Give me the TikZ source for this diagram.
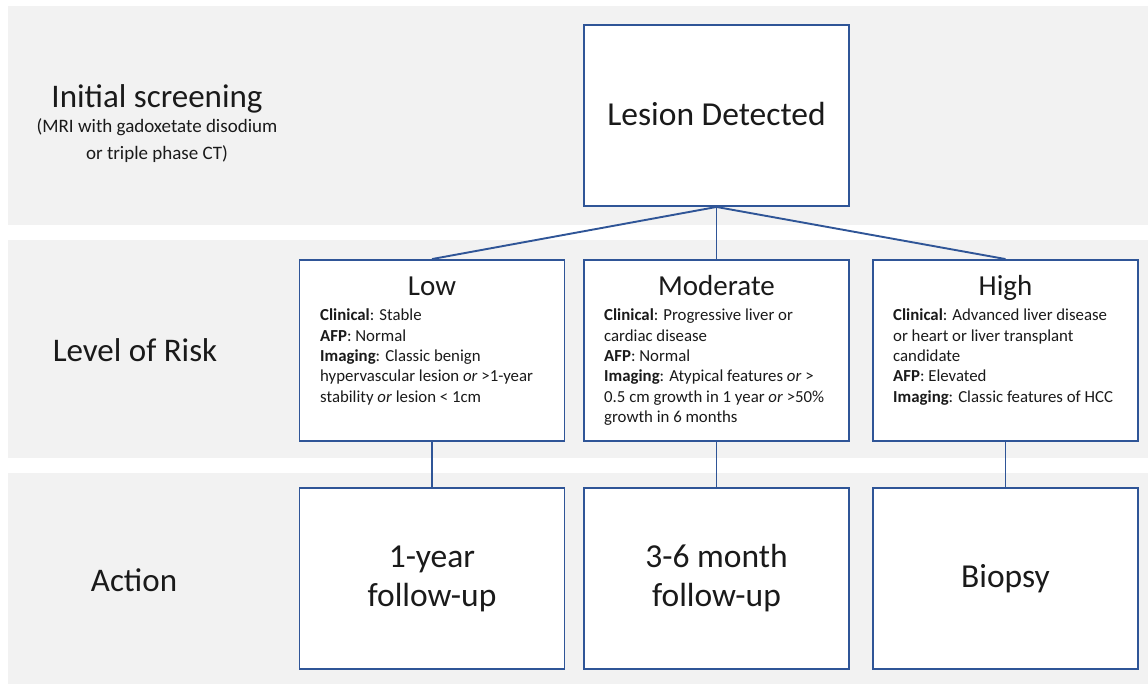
\documentclass[tikz,border=0pt]{standalone}
\usepackage{fontspec}
\setmainfont{Carlito}
\usepackage{tikz}
\usetikzlibrary{positioning}
\definecolor{bandgrey}{HTML}{F2F2F2}
\definecolor{boxblue}{HTML}{2F5597}
\definecolor{inkblack}{HTML}{1A1A1A}

\begin{document}
\begin{tikzpicture}[x=1pt,y=-1pt,
    box/.style={draw=boxblue, line width=1.9pt, fill=white,
        minimum width=265pt, minimum height=181pt, inner sep=0pt},
    link/.style={draw=boxblue, line width=1.9pt},
    big/.style={font=\fontsize{33.5}{39}\selectfont, text=inkblack, align=center},
    rowlabel/.style={font=\fontsize{33}{36}\selectfont, text=inkblack},
    head/.style={font=\fontsize{29}{32}\selectfont, text=inkblack, anchor=base},
    body/.style={font=\fontsize{16.8}{20.3}\selectfont, text=inkblack,
        align=left, anchor=north west, inner sep=0pt}]
    \useasboundingbox (0,0) rectangle (1148,686);
    % grey bands
    \fill[bandgrey] (8,6) rectangle (1148,225);
    \fill[bandgrey] (8,240) rectangle (1148,458);
    \fill[bandgrey] (8,473) rectangle (1148,684);

    % row labels
    \node[rowlabel, anchor=base] (screening) at (157,107) {Initial screening};
    \node[font=\fontsize{19}{27}\selectfont, text=inkblack, align=center, anchor=north] (screensub) at (157,115)
        {(MRI with gadoxetate disodium\\or triple phase CT)};
    \node[rowlabel] (risklabel) at (135,350) {Level of Risk};
    \node[rowlabel] (actionlabel) at (134,580) {Action};

    % boxes
    \node[box, big] (lesion) at (716.5,115.5) {\raisebox{3pt}{Lesion Detected}};
    \node[box] (low) at (432,350.5) {};
    \node[box] (moderate) at (716.5,350.5) {};
    \node[box] (high) at (1005.5,350.5) {};
    \node[box, big] (lowact) at (432,578.5) {1-year\\follow-up};
    \node[box, big] (modact) at (716.5,578.5) {3-6 month\\follow-up};
    \node[box, big] (highact) at (1005.5,578.5) {Biopsy};

    % risk texts
    \node[head] (lowhead) at (432,295) {Low};
    \node[body] (lowtext) at (320,309) {\textbf{Clinical}: Stable\\
        \textbf{AFP}: Normal\\
        \textbf{Imaging}: Classic benign\\
        hypervascular lesion \textit{or} >1-year\\
        stability \textit{or} lesion < 1cm};
    \node[head] (modhead) at (716.5,295) {Moderate};
    \node[body] (modtext) at (604,309) {\textbf{Clinical}: Progressive liver or\\
        cardiac disease\\
        \textbf{AFP}: Normal\\
        \textbf{Imaging}: Atypical features \textit{or} >\\
        0.5 cm growth in 1 year \textit{or} >50\%\\
        growth in 6 months};
    \node[head] (highhead) at (1005.5,295) {High};
    \node[body] (hightext) at (893,309) {\textbf{Clinical}: Advanced liver disease\\
        or heart or liver transplant\\
        candidate\\
        \textbf{AFP}: Elevated\\
        \textbf{Imaging}: Classic features of HCC};

    % connectors
    \draw[link] (lesion.south) -- (low.north);
    \draw[link] (lesion.south) -- (moderate.north);
    \draw[link] (lesion.south) -- (high.north);
    \draw[link] (low.south) -- (lowact.north);
    \draw[link] (moderate.south) -- (modact.north);
    \draw[link] (high.south) -- (highact.north);
\end{tikzpicture}
\end{document}
